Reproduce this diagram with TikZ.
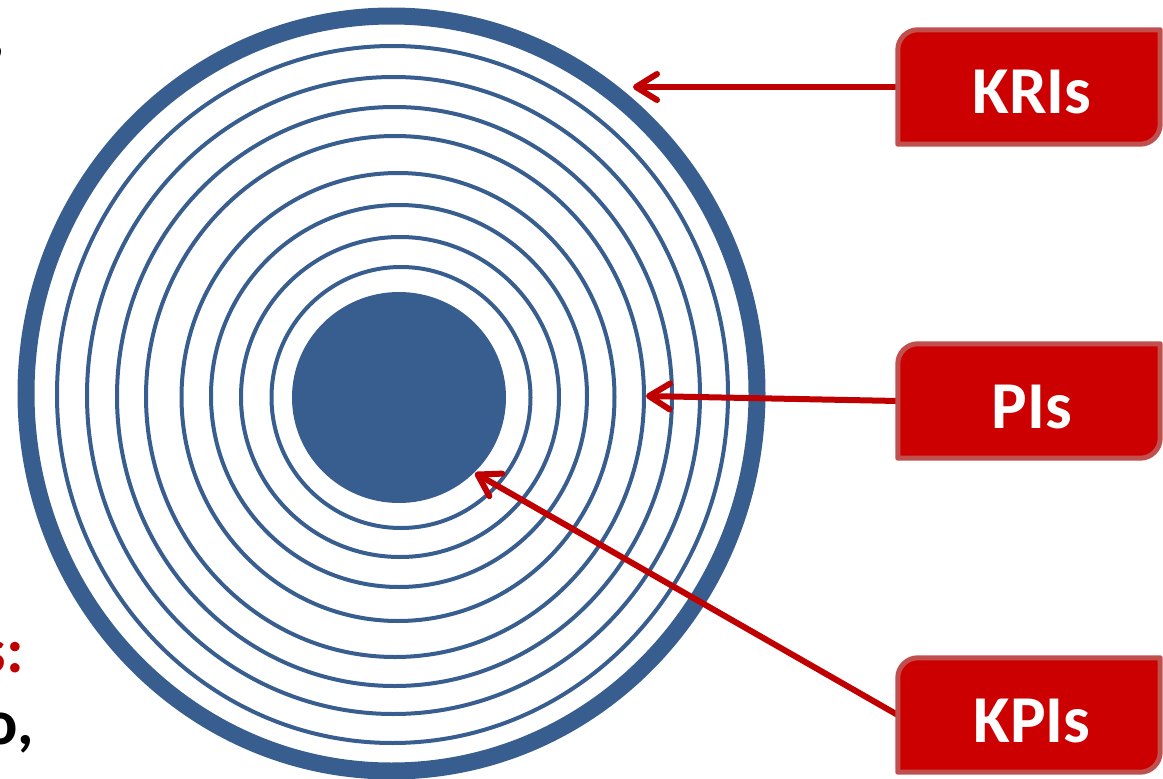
\documentclass[tikz,border=0pt]{standalone}
\usepackage{fontspec}
\setmainfont{Carlito}
\usetikzlibrary{arrows.meta,calc}
\definecolor{ringblue}{HTML}{385E8F}
\definecolor{boxred}{HTML}{CC0000}
\definecolor{boxedge}{HTML}{C0504D}
\definecolor{arrowred}{HTML}{C00000}
\newcommand\redboxpath[1]{%
  \draw[boxshape] (#1.south west) -- ($(#1.north west)+(0,20)$)
    .. controls ($(#1.north west)+(0,9)$) and ($(#1.north west)+(9,0)$) .. ($(#1.north west)+(20,0)$)
    -- (#1.north east) -- ($(#1.south east)+(0,-20)$)
    .. controls ($(#1.south east)+(0,-9)$) and ($(#1.south east)+(-9,0)$) .. ($(#1.south east)+(-20,0)$) -- cycle;}
\begin{document}
\begin{tikzpicture}[x=1pt,y=-1pt,
  ring/.style={draw=ringblue,line width=4pt},
  bigring/.style={draw=ringblue,line width=17pt},
  boxshape/.style={fill=boxred,draw=boxedge,line width=5pt,line join=round},
  boxanchor/.style={inner sep=0pt,minimum width=262pt,minimum height=114pt},
  boxlabel/.style={text=white,font=\fontsize{67}{70}\selectfont\bfseries,inner sep=0pt,anchor=base},
  pointer/.style={draw=arrowred,line width=6pt,-{Straight Barb[length=21pt,width=26pt,round]}},
  edgetext/.style={font=\fontsize{64}{70}\selectfont\bfseries,inner sep=0pt,anchor=base east}]
\useasboundingbox (0,0) rectangle (1163,779);
\clip (0,0) rectangle (1163,779);
% rings
\draw[bigring] (391.5,393.5) ellipse [x radius=365.5pt, y radius=377.5pt];
\draw[ring] (392.5,394.5) ellipse [x radius=335.5pt, y radius=348.5pt];
\draw[ring] (393.5,395.5) ellipse [x radius=306.5pt, y radius=318.5pt];
\draw[ring] (394.5,396.5) ellipse [x radius=277.5pt, y radius=289.5pt];
\draw[ring] (395,396.5) ellipse [x radius=249pt, y radius=260.5pt];
\draw[ring] (398,397) ellipse [x radius=216.5pt, y radius=224pt];
\draw[ring] (399,396) ellipse [x radius=188pt, y radius=191pt];
\draw[ring] (400,397) ellipse [x radius=159pt, y radius=160pt];
\draw[ring] (401,397.5) ellipse [x radius=129.5pt, y radius=130.5pt];
\fill[ringblue] (399,397.5) ellipse [x radius=107pt, y radius=105.5pt];
% left edge text fragments
\node[edgetext] (topcomma) at (5,56) {,};
\node[edgetext,text=arrowred] (redfrag) at (24,672) {s:};
\node[edgetext] (blackfrag) at (34,744) {o,};
% box anchors
\node[boxanchor] (kri) at (1029,87) {};
\node[boxanchor] (pi) at (1029,401) {};
\node[boxanchor] (kpi) at (1029,715) {};
% arrow targets
\coordinate (krit) at (633,87);
\coordinate (pit) at (646,396);
\coordinate (kpit) at (475,473);
\draw[pointer] (kri.west) -- (krit);
\draw[pointer] (pi.west) -- (pit);
\draw[pointer] (kpi.west) -- (kpit);
% boxes
\redboxpath{kri}
\redboxpath{pi}
\redboxpath{kpi}
\node[boxlabel] (krilabel) at ($(kri.center)+(3,26.5)$) {KRIs};
\node[boxlabel] (pilabel) at ($(pi.center)+(3,27)$) {PIs};
\node[boxlabel] (kpilabel) at ($(kpi.center)+(3,27)$) {KPIs};
\end{tikzpicture}
\end{document}
